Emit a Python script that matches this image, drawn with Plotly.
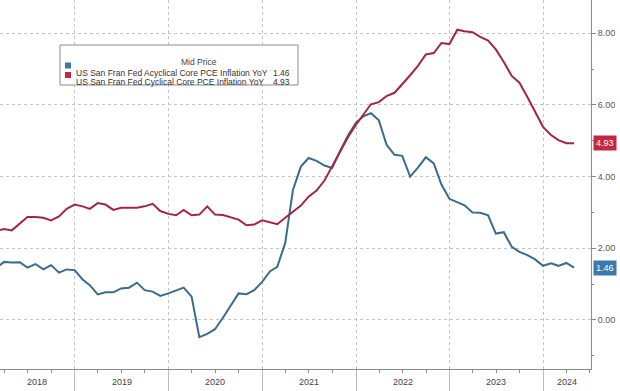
import pandas as pd
import plotly.graph_objects as go

# ---- data (monthly, month-end) ----
dates = pd.date_range("2018-02-28", periods=75, freq="ME")

acyclical = [
    1.45, 1.62, 1.60, 1.61, 1.46, 1.56, 1.41, 1.53, 1.32, 1.41,   # 2018-02 .. 2018-11
    1.39, 1.13, 0.97, 0.71, 0.77, 0.77, 0.88, 0.90, 1.04, 0.83,   # 2018-12 .. 2019-09
    0.79, 0.67, 0.74, 0.83, 0.90, 0.65, -0.48, -0.39, -0.26, 0.06,  # 2019-10 .. 2020-07
    0.42, 0.74, 0.72, 0.83, 1.06, 1.36, 1.48, 2.15, 3.63, 4.28,   # 2020-08 .. 2021-05
    4.52, 4.44, 4.31, 4.24, 4.72, 5.14, 5.50, 5.69, 5.77, 5.57,   # 2021-06 .. 2022-03
    4.89, 4.61, 4.58, 4.00, 4.26, 4.54, 4.37, 3.78, 3.38, 3.29,   # 2022-04 .. 2023-01
    3.20, 3.00, 2.99, 2.92, 2.41, 2.45, 2.04, 1.90, 1.81, 1.69,   # 2023-02 .. 2023-11
    1.51, 1.58, 1.51, 1.59, 1.46,                                  # 2023-12 .. 2024-04
]

cyclical = [
    2.48, 2.54, 2.50, 2.69, 2.87, 2.87, 2.85, 2.78, 2.89, 3.10,
    3.22, 3.17, 3.10, 3.26, 3.22, 3.07, 3.13, 3.13, 3.13, 3.17,
    3.24, 3.04, 2.96, 2.92, 3.07, 2.92, 2.94, 3.17, 2.94, 2.93,
    2.87, 2.80, 2.64, 2.66, 2.78, 2.72, 2.67, 2.85, 3.01, 3.19,
    3.44, 3.61, 3.89, 4.28, 4.70, 5.09, 5.44, 5.74, 6.02, 6.08,
    6.25, 6.34, 6.57, 6.83, 7.10, 7.41, 7.45, 7.73, 7.70, 8.10,
    8.06, 8.03, 7.90, 7.80, 7.55, 7.20, 6.81, 6.62, 6.22, 5.79,
    5.39, 5.16, 5.02, 4.93, 4.93,
]

series_names = [
    "US San Fran Fed Acyclical Core PCE Inflation YoY",
    "US San Fran Fed Cyclical Core PCE Inflation YoY",
]
legend_title = "Mid Price"
year_labels = ["2018", "2019", "2020", "2021", "2022", "2023", "2024"]
y_ticks = [0, 2, 4, 6, 8]

# ---- styling ----
BLUE_LINE = "#3b6b8e"
RED_LINE = "#a3283e"
BLUE_TAG = "#3a78ad"
RED_TAG = "#c42840"
FONT = "Liberation Sans, Arial, sans-serif"
TXT = "#444444"
GRID = "#c4c4c4"

x_start = pd.Timestamp("2018-03-15")
x_end = pd.Timestamp("2024-07-05")

fig = go.Figure()
fig.add_trace(go.Scatter(x=dates, y=acyclical, mode="lines", name=series_names[0],
                         line=dict(color=BLUE_LINE, width=2), showlegend=False))
fig.add_trace(go.Scatter(x=dates, y=cyclical, mode="lines", name=series_names[1],
                         line=dict(color=RED_LINE, width=2), showlegend=False))

year_starts = [pd.Timestamp(f"{y}-01-01") for y in year_labels[1:]]

fig.update_layout(
    width=620, height=391,
    margin=dict(l=0, r=29, t=0, b=22),
    paper_bgcolor="white", plot_bgcolor="white",
    font=dict(family=FONT, size=8, color=TXT),
    xaxis=dict(
        type="date", range=[x_start, x_end],
        tickvals=year_starts, ticktext=[""] * len(year_starts),
        ticks="outside", ticklen=22, tickcolor="#bdbdbd", tickwidth=1,
        showgrid=True, gridcolor=GRID, griddash="dot", gridwidth=1,
        showline=True, linecolor="#8a8a8a", linewidth=1,
        minor=dict(dtick="M3", tick0="2018-01-01", ticks="outside", ticklen=3,
                   tickcolor="#8a8a8a", showgrid=False),
        zeroline=False, fixedrange=True,
    ),
    yaxis=dict(
        side="right", range=[-1.37, 8.93],
        tickvals=y_ticks, tickformat=".2f",
        ticks="outside", ticklen=4, tickcolor="#8a8a8a",
        showgrid=True, gridcolor=GRID, griddash="dot", gridwidth=1,
        showline=True, linecolor="#8a8a8a", linewidth=1,
        minor=dict(dtick=1, tick0=1, ticks="outside", ticklen=2, tickcolor="#8a8a8a", showgrid=False),
        zeroline=False, tickfont=dict(size=9, color="#555555"), fixedrange=True,
    ),
)

# year labels centred in the visible part of each year
bounds = [x_start] + year_starts + [x_end]
for i, lab in enumerate(year_labels):
    a, b = bounds[i], bounds[i + 1]
    mid = a + (b - a) / 2
    fig.add_annotation(x=mid, xref="x", y=0, yref="paper", yanchor="top", yshift=-6,
                       text=lab, showarrow=False, font=dict(size=9, color=TXT))

# last-value tags on the right axis
for vals, col in ((cyclical, RED_TAG), (acyclical, BLUE_TAG)):
    fig.add_annotation(x=1, xref="paper", xanchor="left", xshift=2, y=vals[-1], yref="y",
                       text=f"{vals[-1]:.2f}", showarrow=False, bgcolor=col,
                       font=dict(size=9, color="white"), borderpad=2)

# legend box (manual, Bloomberg style)
lx0, lx1 = 60 / 591, 298 / 591
ly_top, ly_bot = 1 - 45 / 369, 1 - 85 / 369
fig.add_shape(type="rect", xref="paper", yref="paper", x0=lx0, x1=lx1, y0=ly_bot, y1=ly_top,
              line=dict(color="#8c8c8c", width=1), fillcolor="white", layer="above")
fig.add_annotation(x=(lx0 + lx1) / 2, xref="paper", y=1 - 55.5 / 369, yref="paper",
                   text=legend_title, showarrow=False, font=dict(size=8.5, color=TXT))
rows = [(series_names[0], acyclical[-1], BLUE_TAG), (series_names[1], cyclical[-1], RED_TAG)]
for k, (name, val, col) in enumerate(rows):
    yc = 1 - (65.5 + 9.5 * k) / 369
    fig.add_shape(type="rect", xref="paper", yref="paper",
                  x0=65 / 591, x1=71 / 591, y0=yc - 3 / 369, y1=yc + 3 / 369,
                  line=dict(width=0), fillcolor=col, layer="above")
    fig.add_annotation(x=74 / 591, xref="paper", xanchor="left", y=yc, yref="paper",
                       text=name, showarrow=False, font=dict(size=8.5, color="#333333"))
    fig.add_annotation(x=292 / 591, xref="paper", xanchor="right", y=yc, yref="paper",
                       text=f"{val:.2f}", showarrow=False, font=dict(size=8.5, color="#333333"))

fig.write_html(
    "out.html",
    config={"displayModeBar": False},
    post_script="document.body.style.margin='0';document.body.style.padding='0';"
                "document.documentElement.style.overflow='hidden';",
)
